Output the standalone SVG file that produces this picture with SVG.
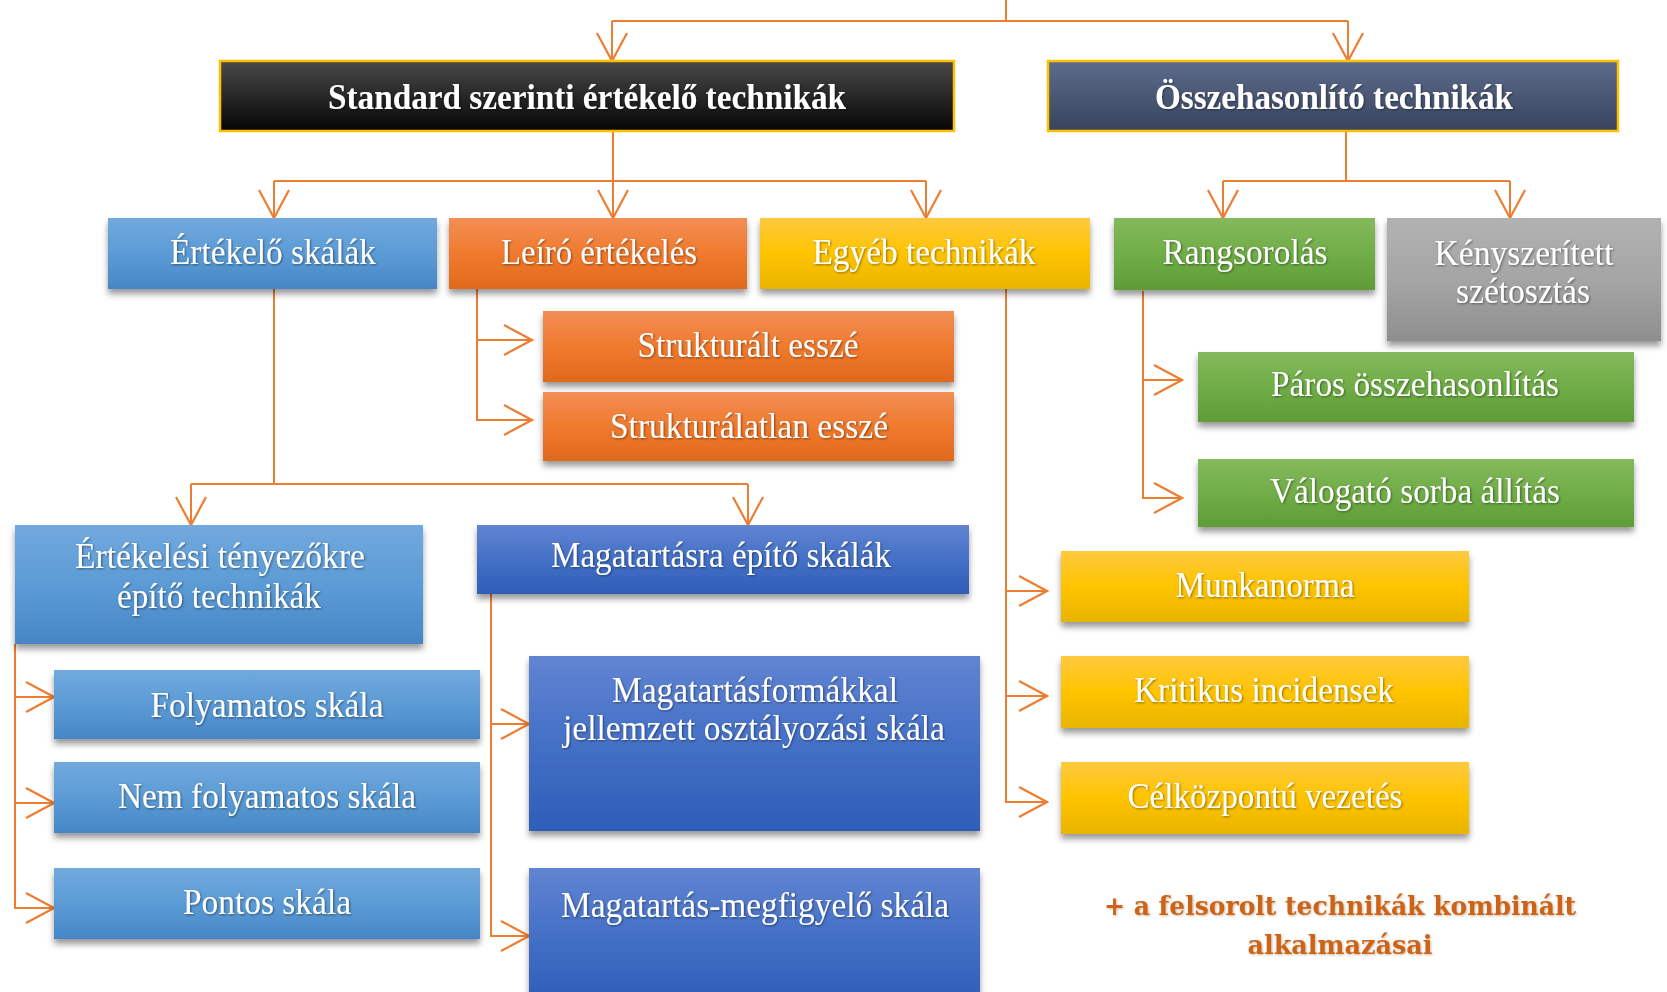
<svg xmlns="http://www.w3.org/2000/svg" width="1667" height="992" viewBox="0 0 1667 992">
<defs>
<linearGradient id="gBlack" x1="0" y1="0" x2="0" y2="1"><stop offset="0" stop-color="#4a4a4a"/><stop offset="1" stop-color="#050505"/></linearGradient>
<linearGradient id="gSlate" x1="0" y1="0" x2="0" y2="1"><stop offset="0" stop-color="#5d6c8c"/><stop offset="1" stop-color="#38445e"/></linearGradient>
<linearGradient id="gLBlue" x1="0" y1="0" x2="0" y2="1"><stop offset="0" stop-color="#72a9de"/><stop offset="0.5" stop-color="#5b9bd5"/><stop offset="1" stop-color="#4686c6"/></linearGradient>
<linearGradient id="gOrange" x1="0" y1="0" x2="0" y2="1"><stop offset="0" stop-color="#f28e55"/><stop offset="0.5" stop-color="#f07a2e"/><stop offset="1" stop-color="#e0691c"/></linearGradient>
<linearGradient id="gGold" x1="0" y1="0" x2="0" y2="1"><stop offset="0" stop-color="#ffc93f"/><stop offset="0.5" stop-color="#ffc400"/><stop offset="1" stop-color="#e8b400"/></linearGradient>
<linearGradient id="gGreen" x1="0" y1="0" x2="0" y2="1"><stop offset="0" stop-color="#84b95c"/><stop offset="0.5" stop-color="#70ad47"/><stop offset="1" stop-color="#5e9c36"/></linearGradient>
<linearGradient id="gGray" x1="0" y1="0" x2="0" y2="1"><stop offset="0" stop-color="#b2b2b2"/><stop offset="0.5" stop-color="#a5a5a5"/><stop offset="1" stop-color="#8e8e8e"/></linearGradient>
<linearGradient id="gRoyal" x1="0" y1="0" x2="0" y2="1"><stop offset="0" stop-color="#6184d2"/><stop offset="0.5" stop-color="#4470c6"/><stop offset="1" stop-color="#2f5db8"/></linearGradient>
<filter id="shadow" x="-10%" y="-20%" width="120%" height="150%"><feDropShadow dx="0" dy="5" stdDeviation="3" flood-color="#000" flood-opacity="0.4"/></filter>
<filter id="tshadow" x="-5%" y="-20%" width="110%" height="140%"><feDropShadow dx="1" dy="1" stdDeviation="0.8" flood-color="#000" flood-opacity="0.45"/></filter>
<filter id="nshadow" x="-5%" y="-20%" width="110%" height="140%"><feDropShadow dx="1" dy="1" stdDeviation="1" flood-color="#7a3a00" flood-opacity="0.35"/></filter>
<marker id="arr" markerUnits="userSpaceOnUse" viewBox="0 0 32 32" markerWidth="32" markerHeight="32" refX="30" refY="16" orient="auto">
<path d="M2,1 L30,16 L2,31" fill="none" stroke="#ED7D31" stroke-width="2.2"/>
</marker>
</defs>
<style>
.box{filter:url(#shadow);}
.top{stroke:#FFC000;stroke-width:2.5;}
.t{font-family:"Liberation Serif","Times New Roman",serif;font-size:35px;fill:#fff;text-anchor:middle;filter:url(#tshadow);}
.b{font-weight:bold;}
.c{fill:none;stroke:#ED7D31;stroke-width:2;}
.note{font-family:"DejaVu Serif",serif;font-weight:bold;font-size:26px;fill:#CC6418;text-anchor:middle;filter:url(#nshadow);}
</style>
<rect width="1667" height="992" fill="#fff"/>

<g id="connectors" class="c">
<path d="M1006,0 V21 M612,21 H1348"/>
<path d="M612,21 V61" marker-end="url(#arr)"/>
<path d="M1348,21 V61" marker-end="url(#arr)"/>
<path d="M613,131 V181 M274,181 H926"/>
<path d="M274,181 V218" marker-end="url(#arr)"/>
<path d="M613,181 V218" marker-end="url(#arr)"/>
<path d="M926,181 V218" marker-end="url(#arr)"/>
<path d="M1346,131 V181 M1223,181 H1510"/>
<path d="M1223,181 V218" marker-end="url(#arr)"/>
<path d="M1510,181 V218" marker-end="url(#arr)"/>
<path d="M274,289 V484 M191,484 H748"/>
<path d="M191,484 V525" marker-end="url(#arr)"/>
<path d="M748,484 V525" marker-end="url(#arr)"/>
<path d="M477,289 V420 H532" marker-end="url(#arr)"/>
<path d="M477,340 H532" marker-end="url(#arr)"/>
<path d="M1006,289 V802 H1047" marker-end="url(#arr)"/>
<path d="M1006,591 H1047" marker-end="url(#arr)"/>
<path d="M1006,696 H1047" marker-end="url(#arr)"/>
<path d="M1143,291 V498 H1182" marker-end="url(#arr)"/>
<path d="M1143,380 H1182" marker-end="url(#arr)"/>
<path d="M15,644 V908 H54" marker-end="url(#arr)"/>
<path d="M15,697 H54" marker-end="url(#arr)"/>
<path d="M15,803 H54" marker-end="url(#arr)"/>
<path d="M491,594 V936 H529" marker-end="url(#arr)"/>
<path d="M491,724 H529" marker-end="url(#arr)"/>
</g>

<g id="standard"><rect x="220" y="61" width="734" height="70" fill="url(#gBlack)" class="top"/><text class="t b" x="587" y="109" textLength="518" lengthAdjust="spacingAndGlyphs">Standard szerinti értékelő technikák</text></g>
<g id="osszehasonlito"><rect x="1048" y="61" width="570" height="70" fill="url(#gSlate)" class="top"/><text class="t b" x="1334" y="109" textLength="358" lengthAdjust="spacingAndGlyphs">Összehasonlító technikák</text></g>

<g id="ertekelo-skalak"><rect class="box" x="108" y="218" width="329" height="71" fill="url(#gLBlue)"/><text class="t" x="273" y="264" textLength="206" lengthAdjust="spacingAndGlyphs">Értékelő skálák</text></g>
<g id="leiro"><rect class="box" x="449" y="218" width="298" height="71" fill="url(#gOrange)"/><text class="t" x="599" y="264" textLength="196" lengthAdjust="spacingAndGlyphs">Leíró értékelés</text></g>
<g id="egyeb"><rect class="box" x="760" y="218" width="330" height="71" fill="url(#gGold)"/><text class="t" x="924" y="264" textLength="223" lengthAdjust="spacingAndGlyphs">Egyéb technikák</text></g>
<g id="rangsorolas"><rect class="box" x="1114" y="218" width="261" height="72" fill="url(#gGreen)"/><text class="t" x="1245" y="264" textLength="165" lengthAdjust="spacingAndGlyphs">Rangsorolás</text></g>
<g id="kenyszeritett"><rect class="box" x="1387" y="218" width="274" height="123" fill="url(#gGray)"/><text class="t" x="1524" y="265" textLength="179" lengthAdjust="spacingAndGlyphs">Kényszerített</text><text class="t" x="1523" y="303" textLength="134" lengthAdjust="spacingAndGlyphs">szétosztás</text></g>

<g id="strukturalt"><rect class="box" x="543" y="311" width="411" height="71" fill="url(#gOrange)"/><text class="t" x="748" y="357" textLength="221" lengthAdjust="spacingAndGlyphs">Strukturált esszé</text></g>
<g id="strukturalatlan"><rect class="box" x="543" y="392" width="411" height="69" fill="url(#gOrange)"/><text class="t" x="749" y="438" textLength="278" lengthAdjust="spacingAndGlyphs">Strukturálatlan esszé</text></g>

<g id="ertekelesi-tenyezok"><rect class="box" x="15" y="525" width="408" height="119" fill="url(#gLBlue)"/><text class="t" x="220" y="568" textLength="290" lengthAdjust="spacingAndGlyphs">Értékelési tényezőkre</text><text class="t" x="219" y="608" textLength="204" lengthAdjust="spacingAndGlyphs">építő technikák</text></g>
<g id="magatartasra"><rect class="box" x="477" y="525" width="492" height="69" fill="url(#gRoyal)"/><text class="t" x="721" y="567" textLength="340" lengthAdjust="spacingAndGlyphs">Magatartásra építő skálák</text></g>

<g id="folyamatos"><rect class="box" x="54" y="670" width="426" height="69" fill="url(#gLBlue)"/><text class="t" x="267" y="717" textLength="233" lengthAdjust="spacingAndGlyphs">Folyamatos skála</text></g>
<g id="nem-folyamatos"><rect class="box" x="54" y="762" width="426" height="71" fill="url(#gLBlue)"/><text class="t" x="267" y="808" textLength="298" lengthAdjust="spacingAndGlyphs">Nem folyamatos skála</text></g>
<g id="pontos"><rect class="box" x="54" y="868" width="426" height="71" fill="url(#gLBlue)"/><text class="t" x="267" y="914" textLength="168" lengthAdjust="spacingAndGlyphs">Pontos skála</text></g>

<g id="magatartasformakkal"><rect class="box" x="529" y="656" width="451" height="175" fill="url(#gRoyal)"/><text class="t" x="755" y="702" textLength="286" lengthAdjust="spacingAndGlyphs">Magatartásformákkal</text><text class="t" x="754" y="740" textLength="382" lengthAdjust="spacingAndGlyphs">jellemzett osztályozási skála</text></g>
<g id="megfigyelo"><rect class="box" x="529" y="868" width="451" height="135" fill="url(#gRoyal)"/><text class="t" x="755" y="917" textLength="388" lengthAdjust="spacingAndGlyphs">Magatartás-megfigyelő skála</text></g>

<g id="paros"><rect class="box" x="1198" y="352" width="436" height="70" fill="url(#gGreen)"/><text class="t" x="1415" y="396" textLength="288" lengthAdjust="spacingAndGlyphs">Páros összehasonlítás</text></g>
<g id="valogato"><rect class="box" x="1198" y="459" width="436" height="68" fill="url(#gGreen)"/><text class="t" x="1415" y="503" textLength="290" lengthAdjust="spacingAndGlyphs">Válogató sorba állítás</text></g>

<g id="munkanorma"><rect class="box" x="1061" y="551" width="408" height="71" fill="url(#gGold)"/><text class="t" x="1265" y="597" textLength="179" lengthAdjust="spacingAndGlyphs">Munkanorma</text></g>
<g id="kritikus"><rect class="box" x="1061" y="656" width="408" height="72" fill="url(#gGold)"/><text class="t" x="1264" y="702" textLength="260" lengthAdjust="spacingAndGlyphs">Kritikus incidensek</text></g>
<g id="celkozpontu"><rect class="box" x="1061" y="762" width="408" height="72" fill="url(#gGold)"/><text class="t" x="1265" y="808" textLength="275" lengthAdjust="spacingAndGlyphs">Célközpontú vezetés</text></g>

<g id="megjegyzes"><text class="note" x="1340" y="915" textLength="472" lengthAdjust="spacingAndGlyphs">+ a felsorolt technikák kombinált</text><text class="note" x="1340" y="954" textLength="185" lengthAdjust="spacingAndGlyphs">alkalmazásai</text></g>
</svg>
